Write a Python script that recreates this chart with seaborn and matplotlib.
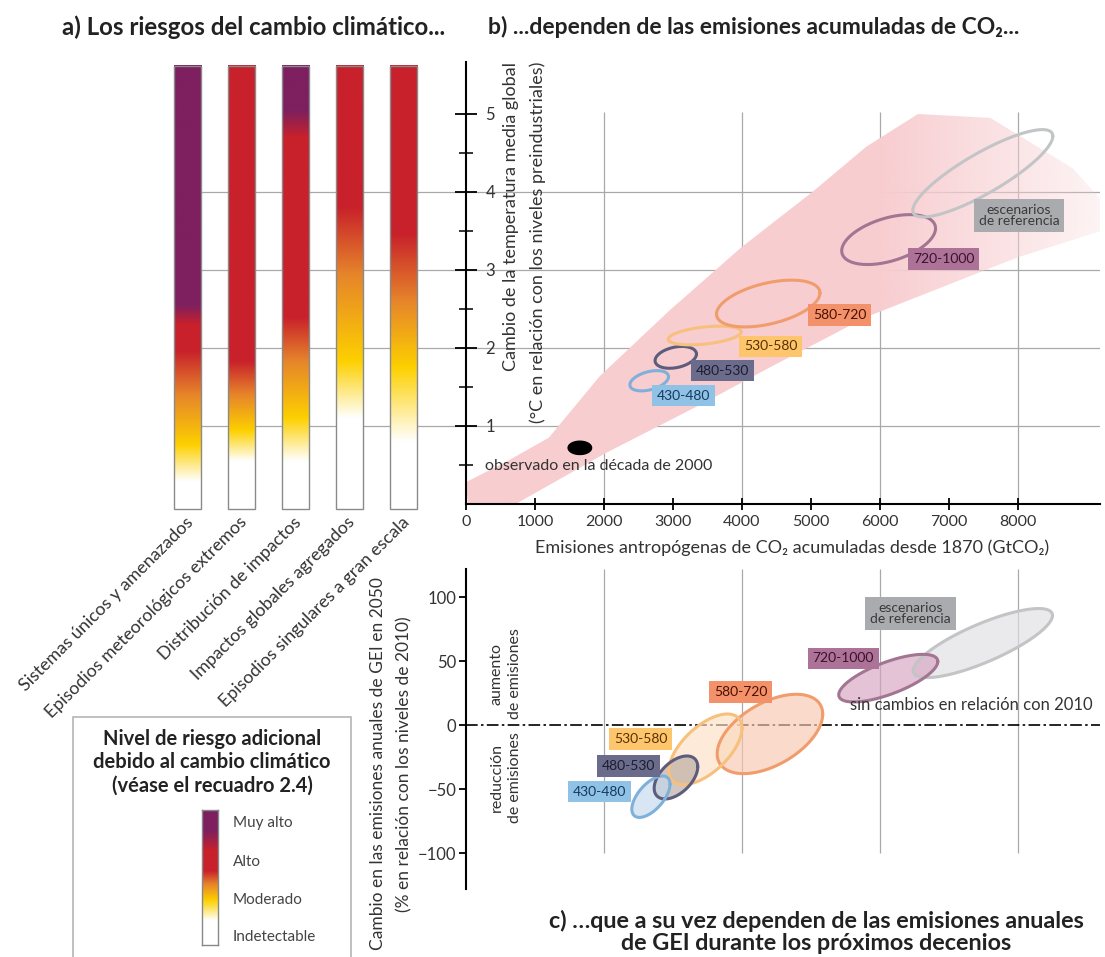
import numpy as np
import pandas as pd
import matplotlib
matplotlib.use("Agg")
import matplotlib.pyplot as plt
import seaborn as sns
from matplotlib.patches import Polygon, Rectangle
from matplotlib.colors import to_rgb

# ---------------- data ----------------
risk_categories = ["Sistemas únicos y amenazados", "Episodios meteorológicos extremos",
                   "Distribución de impactos", "Impactos globales agregados",
                   "Episodios singulares a gran escala"]
# temperature (°C) where each risk level is reached, per category
risk_undetectable_top = [0.29, 0.55, 0.55, 1.10, 0.80]
risk_moderate = [0.76, 0.94, 1.10, 1.83, 1.75]
risk_transition = [1.40, 1.40, 1.83, 2.94, 2.60]
risk_high = [1.96, 1.83, 2.39, 3.80, 3.46]
risk_high_end = [2.30, 5.70, 4.70, 5.70, 5.70]
risk_very_high = [2.55, 5.80, 5.04, 5.80, 5.80]

legend_levels = ["Muy alto", "Alto", "Moderado", "Indetectable"]

# panel b: cumulative emissions (GtCO2) vs warming (°C)
band_upper_E = [0, 600, 1200, 1940, 2960, 3990, 5020, 5800, 6550, 7600, 8800, 9200]
band_upper_T = [0.28, 0.55, 0.85, 1.64, 2.49, 3.29, 4.00, 4.58, 5.00, 4.95, 4.30, 3.90]
band_lower_E = [9200, 7990, 5810, 4400, 3390, 2040, 1000, 60]
band_lower_T = [3.50, 3.16, 2.40, 1.75, 1.27, 0.66, 0.14, -0.33]

scenarios = ["430-480", "480-530", "530-580", "580-720", "720-1000", "escenarios\nde referencia"]
b_center_E = [2655, 3040, 3460, 4380, 6125, 7490]
b_center_T = [1.58, 1.88, 2.16, 2.57, 3.39, 4.24]
b_half_E = [280, 300, 530, 750, 680, 1015]
b_half_T = [0.13, 0.14, 0.12, 0.30, 0.32, 0.56]
b_corr = [0.4, 0.3, 0.4, 0.45, 0.45, 0.85]
b_label_E = [3150, 3720, 4415, 5415, 6920, 8015]
b_label_T = [1.39, 1.71, 2.02, 2.42, 3.14, 3.70]

observed_E, observed_T = 1650, 0.72
observed_half_E, observed_half_T = 170, 0.085

# panel c: change in annual GHG emissions in 2050 (% vs 2010)
c_center_E = [2680, 3043, 3470, 4405, 6120, 7490]
c_center_P = [-56, -41, -19, -7, 36.6, 64]
c_half_E = [277, 316, 530, 765, 718, 1010]
c_half_P = [16.2, 16.8, 27.6, 31, 18.6, 27]
c_corr = [0.6, 0.5, 0.6, 0.5, 0.7, 0.8]
c_label_E = [1940, 2350, 2530, 3980, 5470, 6440]
c_label_P = [-52, -32, -11, 26, 52, 87]

edge_colors = ["#7fb0da", "#5c5c7c", "#f7c07c", "#f19c6c", "#a27592", "#c3c4c6"]
fill_colors = ["#c4daee", "#b9a8a0", "#fde0c4", "#f8c9b0", "#d7a3c2", "#dfe0e2"]
box_colors = ["#8fc2e5", "#6b6b8c", "#fdc66c", "#f2916a", "#ad7298", "#a9abae"]
box_text = ["#163a5e", "#1c1c30", "#5a3000", "#4a1000", "#3a1228", "#3a3a3a"]

# ---------------- style ----------------
sns.set_theme(style="white")
BODY = ["Lato", "DejaVu Sans"]
BOLD = ["Lato", "DejaVu Sans"]
plt.rcParams["font.family"] = BODY
plt.rcParams["text.color"] = "#222222"

W, H = 1105, 957
fig = plt.figure(figsize=(W / 100, H / 100), dpi=100)


def rect(x0, y0, x1, y1):
    return [x0 / W, 1 - y1 / H, (x1 - x0) / W, (y1 - y0) / H]


def ellipse_xy(cx, cy, a, b, corr, n=240):
    t = np.linspace(0, 2 * np.pi, n)
    d = np.arccos(corr)
    return cx + a * np.cos(t), cy + b * np.cos(t - d)


GRID = "#a9a9a9"
TXT = "#333333"
XMAX = 634 * 1000 / 69
TMAX = 442 / 78

# ---------------- panel a ----------------
axa = fig.add_axes(rect(150, 62, 466, 504))
c_white, c_yel, c_org, c_red, c_pur = (to_rgb(c) for c in
                                      ["#ffffff", "#fdd000", "#e6852a", "#c8212b", "#7e1f5f"])
Tg = np.linspace(-0.06, 5.62, 500)
for i in range(len(risk_categories)):
    stops = [-1, risk_undetectable_top[i], risk_moderate[i], risk_transition[i],
             risk_high[i], risk_high_end[i], risk_very_high[i], 10]
    cols = [c_white, c_white, c_yel, c_org, c_red, c_red, c_pur, c_pur]
    img = np.stack([np.interp(Tg, stops, [c[k] for c in cols]) for k in range(3)], axis=-1)
    im = axa.imshow(img[:, None, :], extent=(i - 0.25, i + 0.25, -0.06, 5.62),
                    origin="lower", aspect="auto", zorder=2, interpolation="bilinear")
    im.set_clip_on(False)
    axa.add_patch(Rectangle((i - 0.25, -0.06), 0.5, 5.68, fill=False, ec="#8a8a8a",
                            lw=1.0, zorder=3, clip_on=False))
    axa.text(i + 0.05, -0.2, risk_categories[i], rotation=45, rotation_mode="anchor",
             ha="right", va="center", fontsize=12.8, color=TXT)
axa.hlines([1, 2, 3, 4], 0.25, 5.15, color=GRID, lw=0.9, zorder=1)
axa.set_xlim(-0.70, 5.15)
axa.set_ylim(0, TMAX)
axa.axis("off")

# ---------------- panel b ----------------
axb = fig.add_axes(rect(466, 62, 1100, 504))
for s in ["top", "right"]:
    axb.spines[s].set_visible(False)
for s in ["left", "bottom"]:
    axb.spines[s].set_color("black")
    axb.spines[s].set_linewidth(1.5)

axb.hlines([1, 2, 3, 4], 0, XMAX, color=GRID, lw=0.9, zorder=0)
axb.vlines([2000, 4000, 6000, 8000], 0, 5.02, color=GRID, lw=0.9, zorder=0)

band_xy = np.column_stack([band_upper_E + band_lower_E, band_upper_T + band_lower_T])
band = Polygon(band_xy, closed=True, fc="none", ec="none")
axb.add_patch(band)
Eg = np.linspace(0, 9300, 400)
alpha = np.clip(1 - (Eg - 6000) / 3300 * 0.8, 0.2, 1.0)
rgba = np.zeros((2, Eg.size, 4))
rgba[..., :3] = to_rgb("#f8cdd0")
rgba[..., 3] = alpha
bim = axb.imshow(rgba, extent=(0, 9300, -0.5, 5.2), origin="lower", aspect="auto", zorder=1)
bim.set_clip_path(band)
bim.set_clip_box(None)
axb.set_xlim(0, XMAX)
axb.set_ylim(0, TMAX)

for i in range(len(scenarios)):
    ex, ey = ellipse_xy(b_center_E[i], b_center_T[i], b_half_E[i], b_half_T[i], b_corr[i])
    sns.lineplot(x=ex, y=ey, sort=False, estimator=None, ax=axb, color=edge_colors[i],
                 lw=2.2, zorder=3)
    axb.text(b_label_E[i], b_label_T[i], scenarios[i], ha="center", va="center",
             fontsize=10, color=box_text[i], linespacing=0.95, zorder=5,
             bbox=dict(boxstyle="square,pad=0.35", fc=box_colors[i], ec="none"))

ox, oy = ellipse_xy(observed_E, observed_T, observed_half_E, observed_half_T, 0.0)
axb.fill(ox, oy, color="black", zorder=4)
axb.text(275, 0.49, "observado en la década de 2000", ha="left", va="center",
         fontsize=11.5, color=TXT, zorder=5)

axb.set_xticks(range(0, 9000, 1000))
axb.set_xticklabels([str(v) for v in range(0, 9000, 1000)])
axb.set_yticks([1, 2, 3, 4, 5])
axb.set_yticks([0.5, 1.5, 2.5, 3.5, 4.5], minor=True)
axb.tick_params(axis="x", direction="inout", length=8, width=1.3, labelsize=11.5,
                pad=4, bottom=True, colors="black", labelcolor=TXT)
axb.tick_params(axis="y", which="major", direction="inout", length=16, width=1.3,
                labelsize=12, pad=-22, left=True, colors="black", labelcolor=TXT)
axb.tick_params(axis="y", which="minor", direction="inout", length=10, width=1.3, left=True)
for lbl in axb.get_yticklabels():
    lbl.set_ha("left")
axb.grid(False)

fig.text(792 / W, 1 - 548 / H, "Emisiones antropógenas de CO₂ acumuladas desde 1870 (GtCO₂)",
         ha="center", va="center", fontsize=13, color=TXT)
fig.text(511 / W, 1 - 62 / H, "Cambio de la temperatura media global", rotation=90,
         ha="center", va="top", fontsize=13, color=TXT)
fig.text(538 / W, 1 - 62 / H, "(°C en relación con los niveles preindustriales)", rotation=90,
         ha="center", va="top", fontsize=13, color=TXT)

# ---------------- panel c ----------------
axc = fig.add_axes(rect(466, 569, 1100, 889))
axc.set_xlim(0, XMAX)
axc.set_ylim(-(889 - 725) / 1.28, (725 - 569) / 1.28)
for s in ["top", "right", "bottom"]:
    axc.spines[s].set_visible(False)
axc.spines["left"].set_color("black")
axc.spines["left"].set_linewidth(1.5)
axc.vlines([2000, 4000, 6000, 8000], -100, 122, color=GRID, lw=0.9, zorder=0)
axc.axhline(0, color="black", lw=1.2, ls=(0, (7, 2, 1.5, 2)), zorder=1)

for i in [5, 4, 3, 2, 1, 0]:
    ex, ey = ellipse_xy(c_center_E[i], c_center_P[i], c_half_E[i], c_half_P[i], c_corr[i])
    axc.fill(ex, ey, fc=fill_colors[i], alpha=0.65, ec="none", zorder=2)
    sns.lineplot(x=ex, y=ey, sort=False, estimator=None, ax=axc, color=edge_colors[i],
                 lw=2.2, zorder=3)
for i in range(len(scenarios)):
    axc.text(c_label_E[i], c_label_P[i], scenarios[i], ha="center", va="center",
             fontsize=10, color=box_text[i], linespacing=0.95, zorder=5,
             bbox=dict(boxstyle="square,pad=0.35", fc=box_colors[i], ec="none"))

axc.text(5560, 16, "sin cambios en relación con 2010", ha="left", va="center",
         fontsize=12, color=TXT)
axc.text(580, 40, "aumento\nde emisiones", rotation=90, ha="center", va="center",
         fontsize=11.5, color=TXT, linespacing=1.45)
axc.text(580, -41, "reducción\nde emisiones", rotation=90, ha="center", va="center",
         fontsize=11.5, color=TXT, linespacing=1.45)

axc.set_xticks([])
axc.set_yticks([-100, -50, 0, 50, 100])
axc.set_yticklabels(["−100", "−50", "0", "50", "100"])
axc.tick_params(axis="y", direction="out", length=5, width=1.3, labelsize=12,
                left=True, colors="black", labelcolor=TXT, pad=2)
axc.grid(False)

fig.text(378 / W, 1 - 764 / H, "Cambio en las emisiones anuales de GEI en 2050", rotation=90,
         ha="center", va="center", fontsize=12.5, color=TXT)
fig.text(404 / W, 1 - 764 / H, "(% en relación con los niveles de 2010)", rotation=90,
         ha="center", va="center", fontsize=12.5, color=TXT)

# ---------------- titles ----------------
fig.text(62 / W, 1 - 27 / H, "a) Los riesgos del cambio climático...", ha="left", va="center",
         fontsize=17.3, fontweight="bold", family=BOLD, color="#222222")
fig.text(488 / W, 1 - 27 / H, "b) ...dependen de las emisiones acumuladas de CO₂...",
         ha="left", va="center", fontsize=16.5, fontweight="bold", family=BOLD, color="#222222")
fig.text(816 / W, 1 - 932 / H,
         "c) …que a su vez dependen de las emisiones anuales\nde GEI durante los próximos decenios",
         ha="center", va="center", fontsize=16.8, fontweight="bold", family=BOLD,
         color="#222222", linespacing=1.1)

# ---------------- legend ----------------
fig.add_artist(Rectangle((73 / W, -0.01), 278 / W, (957 - 717) / H + 0.01,
                         transform=fig.transFigure, fill=False, ec="#b5b5b5", lw=1.2))
fig.text(212 / W, 1 - 762 / H,
         "Nivel de riesgo adicional\ndebido al cambio climático\n(véase el recuadro 2.4)",
         ha="center", va="center", fontsize=14.5, fontweight="bold", family=BOLD,
         color="#222222", linespacing=1.2)
axl = fig.add_axes(rect(202, 810, 218, 945))
fr = np.linspace(0, 1, 300)
lstops = [0, 0.18, 0.33, 0.45, 0.55, 0.70, 0.85, 1]
lcols = [c_white, c_white, c_yel, c_org, c_red, c_red, c_pur, c_pur]
limg = np.stack([np.interp(fr, lstops, [c[k] for c in lcols]) for k in range(3)], axis=-1)
axl.imshow(limg[:, None, :], origin="lower", aspect="auto", extent=(0, 1, 0, 1))
axl.set_xticks([])
axl.set_yticks([])
for s in axl.spines.values():
    s.set_color("#888888")
    s.set_linewidth(1)
for lbl, ypx in zip(legend_levels, [823, 862, 900, 937]):
    fig.text(233 / W, 1 - ypx / H, lbl, ha="left", va="center", fontsize=11, color="#444444")

fig.savefig("out.png", dpi=100)
